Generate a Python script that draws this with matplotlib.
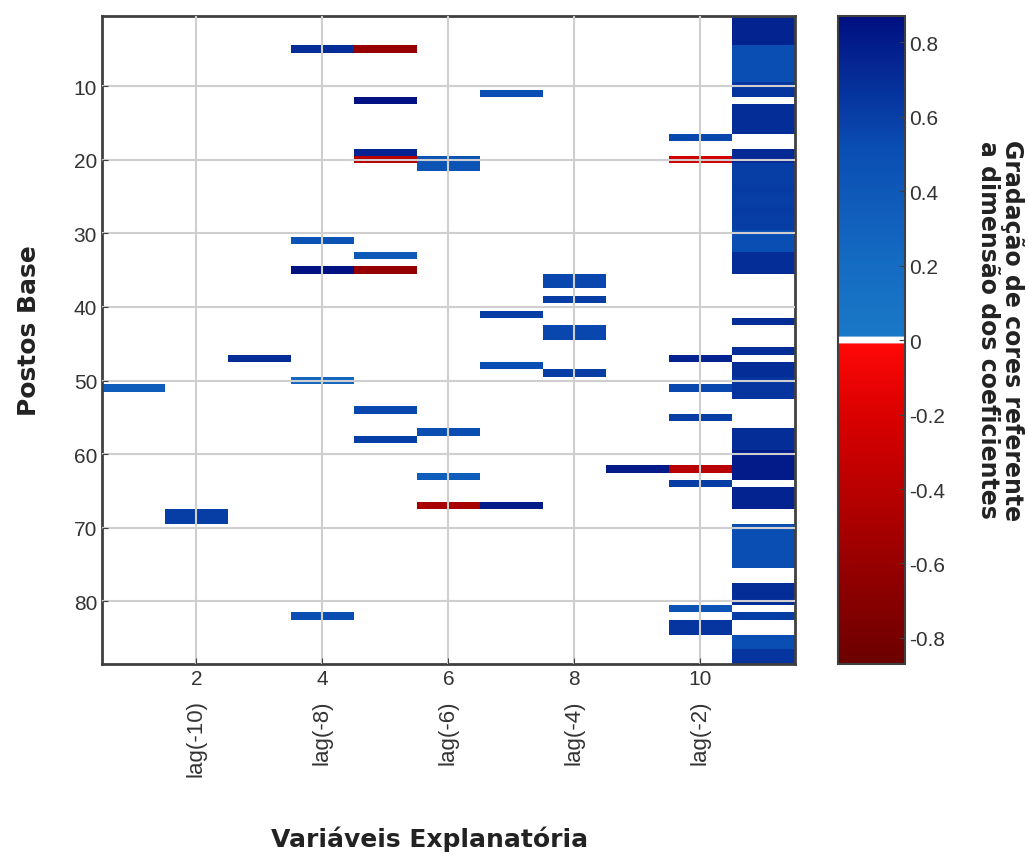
import numpy as np
import matplotlib
matplotlib.use("Agg")
import matplotlib.pyplot as plt
from matplotlib.colors import LinearSegmentedColormap

# explanatory variable (column) / base station (row) / coefficient
var_cols = [1,
            2, 2,
            3,
            4, 4, 4, 4, 4,
            5, 5, 5, 5, 5, 5, 5, 5,
            6, 6, 6, 6, 6,
            7, 7, 7, 7,
            8, 8, 8, 8, 8, 8,
            9,
            10, 10, 10, 10, 10, 10, 10, 10, 10, 10]
base_rows = [51,
             68, 69,
             47,
             5, 31, 35, 50, 82,
             5, 12, 19, 20, 33, 35, 54, 58,
             20, 21, 57, 63, 67,
             11, 41, 48, 67,
             36, 37, 39, 43, 44, 49,
             62,
             17, 20, 47, 51, 55, 62, 64, 81, 83, 84]
coef_vals = [0.35,
             0.6, 0.6,
             0.7,
             0.7, 0.45, 0.85, 0.25, 0.5,
             -0.6, 0.85, 0.75, -0.4, 0.4, -0.6, 0.55, 0.6,
             0.45, 0.45, 0.5, 0.35, -0.5,
             0.5, 0.6, 0.5, 0.8,
             0.55, 0.55, 0.6, 0.55, 0.55, 0.6,
             0.8,
             0.55, -0.25, 0.75, 0.55, 0.6, -0.4, 0.6, 0.45, 0.65, 0.65]

# last column (constant term) is almost full
const_rows = [1, 2, 3, 4, 5, 6, 7, 8, 9, 10, 11,
              13, 14, 15, 16,
              19, 20, 21, 22, 23, 24, 25, 26, 27, 28, 29, 30, 31, 32, 33, 34, 35,
              42, 46, 48, 49, 50, 51, 52,
              57, 58, 59, 60, 61, 62, 63,
              65, 66, 67,
              70, 71, 72, 73, 74, 75,
              78, 79, 80, 82, 85, 86, 87, 88]
const_vals = [0.75, 0.75, 0.75, 0.75, 0.5, 0.5, 0.5, 0.5, 0.5, 0.65, 0.65,
              0.7, 0.7, 0.7, 0.7,
              0.72, 0.72, 0.6, 0.6, 0.6, 0.62, 0.6, 0.6, 0.62, 0.6, 0.6, 0.5, 0.5, 0.5, 0.7, 0.7, 0.7,
              0.7, 0.7, 0.7, 0.7, 0.65, 0.65, 0.65,
              0.7, 0.7, 0.7, 0.8, 0.8, 0.8, 0.8,
              0.75, 0.75, 0.75,
              0.5, 0.5, 0.5, 0.5, 0.5, 0.5,
              0.7, 0.7, 0.7, 0.6, 0.5, 0.5, 0.65, 0.65]

lag_ticks = [2, 4, 6, 8, 10]
lag_labels = ['lag(-10)', 'lag(-8)', 'lag(-6)', 'lag(-4)', 'lag(-2)']

n_rows, n_cols = 88, 11
vmax = 0.87

M = np.full((n_rows, n_cols), np.nan)
for c, r, v in zip(var_cols, base_rows, coef_vals):
    M[r - 1, c - 1] = v
for r, v in zip(const_rows, const_vals):
    M[r - 1, n_cols - 1] = v

cmap = LinearSegmentedColormap.from_list('rwb', [
    (0.0, (0.42, 0.0, 0.0)),
    (0.38, (0.85, 0.0, 0.0)),
    (0.494, (1.0, 0.03, 0.03)),
    (0.4955, (1.0, 1.0, 1.0)),
    (0.5045, (1.0, 1.0, 1.0)),
    (0.506, (0.1, 0.47, 0.78)),
    (0.62, (0.08, 0.42, 0.76)),
    (0.8, (0.04, 0.3, 0.7)),
    (1.0, (0.0, 0.06, 0.5)),
], N=1024)
cmap.set_bad('white')

plt.rcParams['font.family'] = ['Liberation Sans', 'DejaVu Sans']

fig = plt.figure(figsize=(10.28, 8.62), dpi=100)
ax = fig.add_axes([0.0992, 0.2285, 0.674, 0.7517])
cax = fig.add_axes([0.815, 0.2285, 0.065, 0.7517])

im = ax.imshow(M, cmap=cmap, vmin=-vmax, vmax=vmax, aspect='auto',
               interpolation='nearest', extent=(0.5, 11.5, 88.5, 0.5))
ax.set_xlim(0.5, 11.5)
ax.set_ylim(88.5, 0.5)
ax.set_xticks(lag_ticks)
ax.set_yticks(range(10, 81, 10))
ax.grid(True, color='#cfcfcf', linewidth=1.5)
ax.set_axisbelow(False)
ax.tick_params(direction='in', length=4, labelsize=15, colors='#404040',
               labelcolor='#333333')
for s in ax.spines.values():
    s.set_color('#404040')
    s.set_linewidth(2)

trans = matplotlib.transforms.blended_transform_factory(ax.transData, ax.transAxes)
for x, lab in zip(lag_ticks, lag_labels):
    ax.text(x, -0.054, lab, transform=trans, rotation=90, ha='center', va='top',
            fontsize=16, color='#333333')

fig.text(0.418, 0.012, 'Variáveis Explanatória', ha='center', va='bottom',
         fontsize=18, fontweight='bold', family='DejaVu Sans', color='#222222')
fig.text(0.028, 0.617, 'Postos Base', rotation=90, ha='center', va='center',
         fontsize=18, fontweight='bold', family='DejaVu Sans', color='#222222')

cb = fig.colorbar(im, cax=cax, ticks=[0.8, 0.6, 0.4, 0.2, 0, -0.2, -0.4, -0.6, -0.8])
cb.ax.set_yticklabels(['0.8', '0.6', '0.4', '0.2', '0', '-0.2', '-0.4', '-0.6', '-0.8'])
cb.ax.tick_params(direction='in', length=4, labelsize=15, colors='#404040',
                  labelcolor='#333333')
cb.outline.set_edgecolor('#404040')
cb.outline.set_linewidth(1.5)
fig.text(0.973, 0.617, 'Gradação de cores referente\na dimensão dos coeficientes',
         rotation=-90, ha='center', va='center', fontsize=17, fontweight='bold',
         family='DejaVu Sans', color='#222222', linespacing=1.0)

fig.savefig('out.png', dpi=100)
